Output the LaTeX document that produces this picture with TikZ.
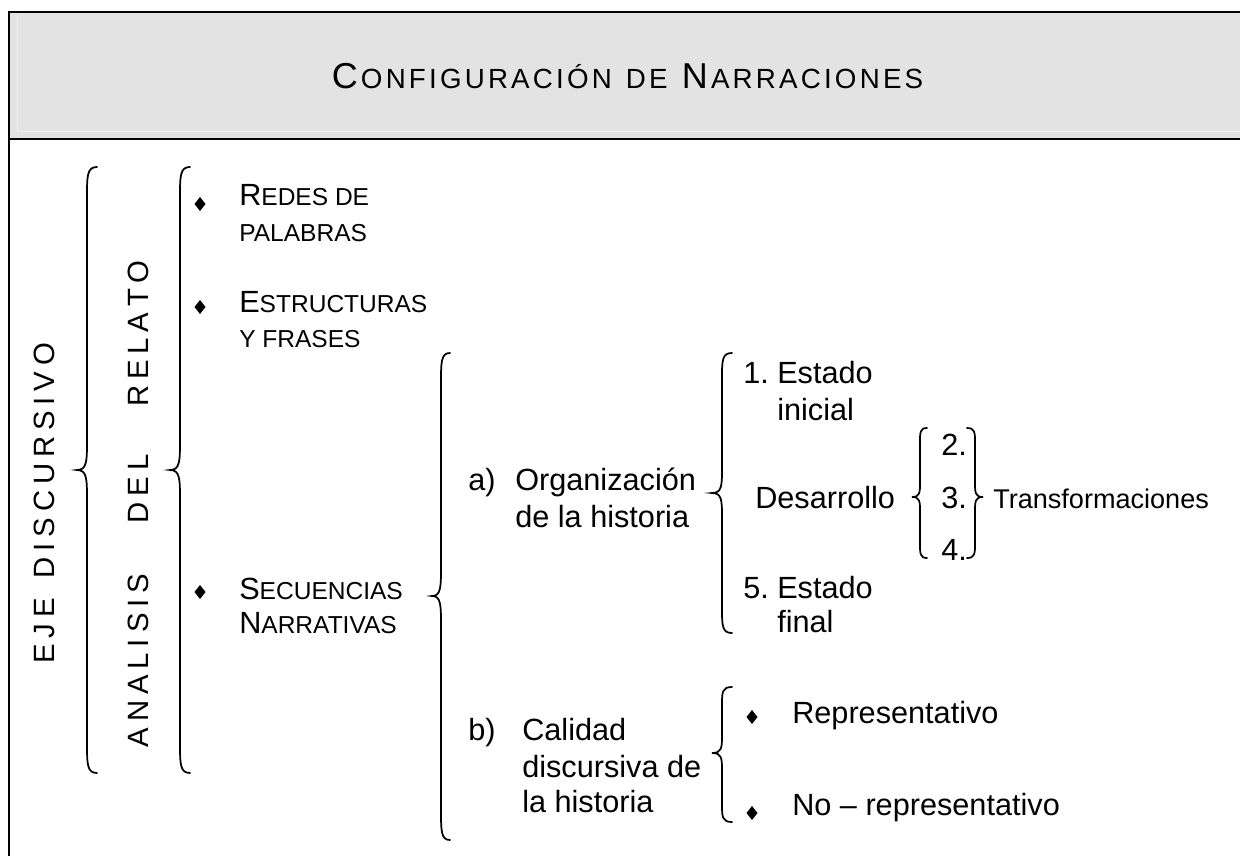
\documentclass[tikz,border=0pt]{standalone}
\usepackage{fontspec}
\setmainfont{Liberation Sans}
\definecolor{hdr}{HTML}{E3E3E3}
\definecolor{hdrlite}{HTML}{EFEFEF}
\newdimen\lsp
\def\lsw#1{\lswaux#1\lswend}
\def\lswaux#1#2\lswend{#1\if\relax\detokenize{#2}\relax\else\kern\lsp\lswaux#2\lswend\fi}
\newcommand\fsz[1]{\fontsize{#1}{#1}\selectfont}
\newcommand\scB[1]{{\fsz{23}#1}}
\newcommand\scS[1]{{\fsz{18.4}#1}}
% brace: tip x, spine x, point x, top y, mid y, bottom y, curve length
\newcommand\brc[7]{%
  \draw[brc] (#1,#4) .. controls (#2,#4) and (#2,{#4+0.3*#7}) .. (#2,{#4+#7})
    -- (#2,{#5-#7}) .. controls (#2,{#5-0.3*#7}) and (#2,#5) .. (#3,#5)
    .. controls (#2,#5) and (#2,{#5+0.3*#7}) .. (#2,{#5+#7})
    -- (#2,{#6-#7}) .. controls (#2,{#6-0.3*#7}) and (#2,#6) .. (#1,#6);}
\newcommand\dia[2]{\fill (#1-5.5,#2) -- (#1,#2-7) -- (#1+5.5,#2) -- (#1,#2+7) -- cycle;}
\begin{document}
\begin{tikzpicture}[x=0.75pt,y=-0.75pt,
  txt/.style={inner sep=0pt, anchor=base west, font={\fsz{23}}},
  vtxt/.style={inner sep=0pt, anchor=base, rotate=90, font={\fsz{22}}},
  brc/.style={line width=1.3pt, line cap=round},
  frame/.style={line width=1.6pt}]
\useasboundingbox (0,0) rectangle (1240,856);
% header
\fill[hdr] (9,12) rectangle (1245,139);
\draw[hdrlite, line width=0.8pt] (17.3,12) -- (17.3,131.7) -- (1245,131.7);
\draw[frame] (9,860) -- (9,12) -- (1245,12);
\draw[frame] (9,139) -- (1245,139);
\node[inner sep=0pt, anchor=base] (title) at (627.5,89) {\lsp=2.4pt%
  {\fsz{27}C}\kern\lsp{\fsz{20.8}\lsw{ONFIGURACIÓN}\kern\lsp\ \kern\lsp\lsw{DE}\kern\lsp\ \kern\lsp}%
  {\fsz{27}N}\kern\lsp{\fsz{20.8}\lsw{ARRACIONES}}};
% vertical labels
\node[vtxt] (eje) at (55,503.5) {\lsp=4.4pt\lsw{EJE}\kern\lsp\ \kern\lsp\lsw{DISCURSIVO}};
\node[vtxt] (analisis) at (148,660.5) {\lsp=4.4pt\lsw{ANALISIS}};
\node[vtxt] (del) at (148,489) {\lsp=4.4pt\lsw{DEL}};
\node[vtxt] (relato) at (148,333.5) {\lsp=4.4pt\lsw{RELATO}};
% braces
\brc{97}{87}{77}{167}{470}{773}{30}
\brc{190}{180}{170}{167}{470}{773}{30}
\brc{450}{441}{432}{353}{596}{840}{30}
\brc{732}{722}{712}{353}{493}{633}{25}
\brc{927}{920}{912}{428}{497}{558}{15}
\brc{967}{975}{983}{428}{497}{558}{15}
\brc{732}{722}{712}{687}{753}{822}{18}
% bullets
\dia{200}{204}
\dia{200}{307}
\dia{200}{592}
\dia{752}{717}
\dia{752}{813}
% small-caps items
\node[txt] (redes1) at (239,205) {\scB{R}\scS{EDES DE}};
\node[txt] (redes2) at (239,241) {\scS{PALABRAS}};
\node[txt] (estr1) at (239,312) {\scB{E}\scS{STRUCTURAS}};
\node[txt] (estr2) at (239,347) {\scS{Y FRASES}};
\node[txt] (secu1) at (239,599) {\scB{S}\scS{ECUENCIAS}};
\node[txt] (secu2) at (239,633) {\scB{N}\scS{ARRATIVAS}};
% a) organizacion
\node[txt] (alab) at (468,490) {a)};
\node[txt] (org1) at (515,490) {Organización};
\node[txt] (org2) at (515,527) {de la historia};
\node[txt] (n1) at (743,383) {1.};
\node[txt] (ini1) at (777,383) {Estado};
\node[txt] (ini2) at (777,420) {inicial};
\node[txt] (des) at (755,508) {Desarrollo};
\node[txt] (n2) at (941,455) {2.};
\node[txt] (n3) at (941,508) {3.};
\node[txt] (n4) at (941,560) {4.};
\node[txt, font={\fsz{20.3}}] (trans) at (993,508) {Transformaciones};
\node[txt] (n5) at (743,598) {5.};
\node[txt] (fin1) at (777,598) {Estado};
\node[txt] (fin2) at (777,632) {final};
% b) calidad
\node[txt] (blab) at (468,740) {b)};
\node[txt] (cal1) at (522,740) {Calidad};
\node[txt] (cal2) at (522,777) {discursiva de};
\node[txt] (cal3) at (522,812) {la historia};
\node[txt] (rep) at (792,723) {Representativo};
\node[txt] (norep) at (792,815) {No – representativo};
\end{tikzpicture}
\end{document}
